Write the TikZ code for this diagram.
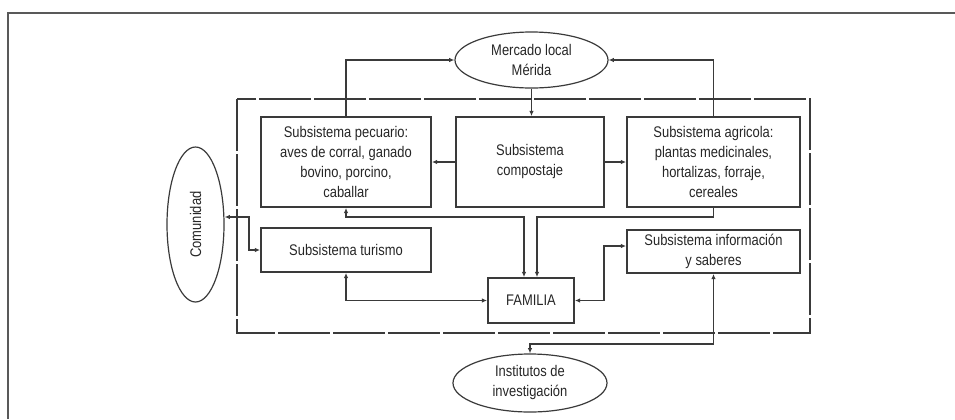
\documentclass[tikz,border=0pt]{standalone}
\usepackage{fontspec}
\setmainfont[FakeStretch=0.84]{Liberation Sans}
\usetikzlibrary{arrows.meta,shapes.geometric}
\definecolor{ink}{HTML}{3A3A3A}
\definecolor{txt}{HTML}{262626}
\begin{document}
\begin{tikzpicture}[x=0.5pt,y=-0.5pt,
  every node/.style={font=\fontsize{7.7pt}{10pt}\selectfont, text=txt, align=center},
  sbox/.style={draw=ink, line width=0.9pt, rectangle, inner sep=0pt},
  oval/.style={draw=ink, line width=0.6pt, ellipse, inner sep=0pt},
  link/.style={draw=ink, line width=0.75pt},
  tip/.style={-{Latex[length=2.6pt,width=2.2pt]}},
  tips/.style={{Latex[length=2.6pt,width=2.2pt]}-{Latex[length=2.6pt,width=2.2pt]}},
  frame/.style={draw=black!65, line width=1pt},
  sysbox/.style={draw=ink, line width=0.9pt, dash pattern=on 26pt off 1.5pt}]
\useasboundingbox (0,0) rectangle (955,419);

% outer frame (open towards the right and bottom)
\draw[frame] (8,419) -- (8,13) -- (955,13);

% system boundary
\draw[sysbox] (237,99) rectangle (810,333);

% boxes
\node[sbox, minimum width=85pt, minimum height=45pt] (pec) at (346,162)
  {Subsistema pecuario:\\aves de corral, ganado\\bovino, porcino,\\caballar};
\node[sbox, minimum width=74pt, minimum height=45pt] (comp) at (530,162)
  {Subsistema\\compostaje};
\node[sbox, minimum width=86.5pt, minimum height=45pt] (agr) at (713.5,162)
  {Subsistema agricola:\\plantas medicinales,\\hortalizas, forraje,\\cereales};
\node[sbox, minimum width=85pt, minimum height=22pt] (tur) at (346,250)
  {Subsistema turismo};
\node[sbox, minimum width=86.5pt, minimum height=21.5pt] (inf) at (713.5,251.5)
  {Subsistema información\\y saberes};
\node[sbox, minimum width=43pt, minimum height=22.5pt] (fam) at (531,300.5)
  {FAMILIA};

% ellipses
\node[oval, minimum width=76.5pt, minimum height=28pt] (mer) at (531.5,60)
  {Mercado local\\Mérida};
\node[oval, minimum width=77pt, minimum height=29pt] (ins) at (530,383)
  {Institutos de\\investigación};
\node[oval, minimum width=28.5pt, minimum height=77.5pt] (com) at (195.5,224.5) {};
\node[rotate=90] (comtxt) at (com) {Comunidad};

% routing points
\coordinate (h1) at (0,217);
\coordinate (h2) at (0,344);
\coordinate (k) at (604,246);
\coordinate (c1) at (249,217);

% connectors
\draw[link, tip] (pec.north) |- (mer.west);
\draw[link, tip] (agr.north) |- (mer.east);
\draw[link, tip] (mer.south) -- (mer.south |- comp.north);
\draw[link, tip] (comp.west) -- (pec.east);
\draw[link, tip] (comp.east) -- (agr.west);
\draw[link, tips] (pec.south) -- (pec.south |- h1) -| ([xshift=-3.5pt]fam.north);
\draw[link, tip] (agr.south) -- (agr.south |- h1) -| ([xshift=3pt]fam.north);
\draw[link, tips] (tur.south) |- (fam.west);
\draw[link, tips] (fam.east) -| (k) -- (k -| inf.west);
\draw[link, tips] (inf.south) -- (inf.south |- h2) -| (ins.north);
\draw[link, tips] (com.east |- c1) -- (c1) |- (tur.west);
\end{tikzpicture}
\end{document}
